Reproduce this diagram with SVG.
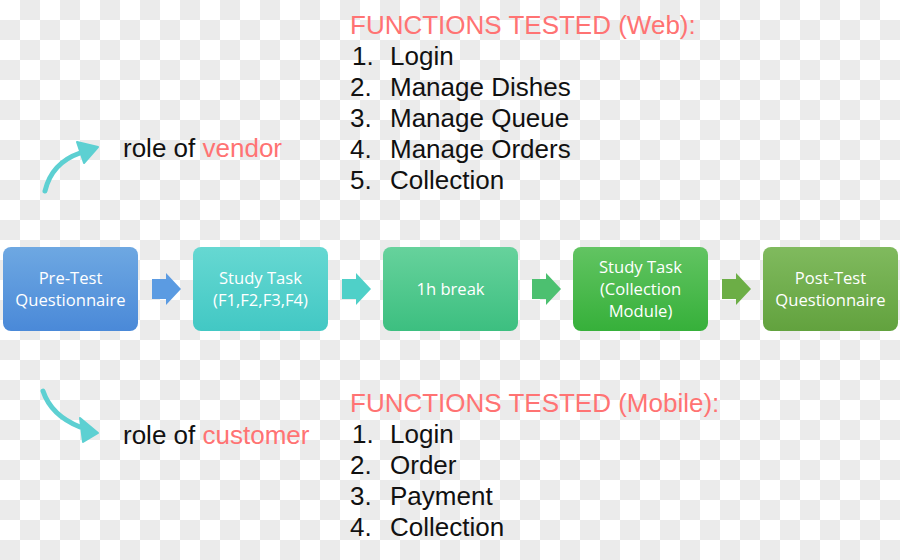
<svg xmlns="http://www.w3.org/2000/svg" width="900" height="560" viewBox="0 0 900 560">
<style>
.bt{font-family:"Open Sans","Noto Sans",sans-serif;font-size:16.6px;fill:#ffffff;text-anchor:middle}
.tx{font-family:"Liberation Sans",Arial,sans-serif;font-size:26px;fill:#111111}
.red{fill:#ff7373}
.curve{fill:none;stroke:#5dd0d2;stroke-width:5;stroke-linecap:round}
.head{fill:#5dd0d2;stroke:#5dd0d2;stroke-width:2;stroke-linejoin:round}
</style>
<defs>
<pattern id="chk" x="0" y="0" width="40" height="40" patternUnits="userSpaceOnUse">
<rect width="40" height="40" fill="#ffffff"/>
<rect x="20" y="0" width="20" height="20" fill="#ebebeb"/>
<rect x="0" y="20" width="20" height="20" fill="#ebebeb"/>
</pattern>
<linearGradient id="g1" x1="0" y1="0" x2="0" y2="1"><stop offset="0" stop-color="#6ea8e2"/><stop offset="1" stop-color="#4a89d8"/></linearGradient>
<linearGradient id="g2" x1="0" y1="0" x2="0" y2="1"><stop offset="0" stop-color="#66d8d2"/><stop offset="1" stop-color="#42c8c4"/></linearGradient>
<linearGradient id="g3" x1="0" y1="0" x2="0" y2="1"><stop offset="0" stop-color="#66d29c"/><stop offset="1" stop-color="#3cbf80"/></linearGradient>
<linearGradient id="g4" x1="0" y1="0" x2="0" y2="1"><stop offset="0" stop-color="#62c462"/><stop offset="1" stop-color="#36b03a"/></linearGradient>
<linearGradient id="g5" x1="0" y1="0" x2="0" y2="1"><stop offset="0" stop-color="#80ba5e"/><stop offset="1" stop-color="#62a23e"/></linearGradient>
</defs>
<rect width="900" height="560" fill="url(#chk)"/>

<g id="connectors">
<path d="M152 279 H166 V273 L181 289 L166 305 V299 H152 Z" fill="#5b9be2"/>
<path d="M342 279 H356 V273 L371 289 L356 305 V299 H342 Z" fill="#4fd0c8"/>
<path d="M532 279 H546 V273 L561 289 L546 305 V299 H532 Z" fill="#4cc070"/>
<path d="M722 279 H736 V273 L751 289 L736 305 V299 H722 Z" fill="#6cae46"/>
<path class="curve" d="M45 191 C49 174 60 160 80 153"/>
<path class="head" d="M98 147 L77 142 L84 163 Z"/>
<path class="curve" d="M43 391 C48 406 60 419 80 427"/>
<path class="head" d="M98 433 L80 418 L83 442 Z"/>
</g>

<g id="node-pretest">
<rect x="3" y="247" width="135" height="84" rx="8" fill="url(#g1)"/>
<text class="bt" x="70.5" y="284">Pre-Test</text>
<text class="bt" x="70.5" y="306">Questionnaire</text>
</g>
<g id="node-study1">
<rect x="193" y="247" width="135" height="84" rx="8" fill="url(#g2)"/>
<text class="bt" x="260.5" y="284">Study Task</text>
<text class="bt" x="260.5" y="306">(F1,F2,F3,F4)</text>
</g>
<g id="node-break">
<rect x="383" y="247" width="135" height="84" rx="8" fill="url(#g3)"/>
<text class="bt" x="450.5" y="295">1h break</text>
</g>
<g id="node-study2">
<rect x="573" y="247" width="135" height="84" rx="8" fill="url(#g4)"/>
<text class="bt" x="640.5" y="273">Study Task</text>
<text class="bt" x="640.5" y="295">(Collection</text>
<text class="bt" x="640.5" y="317">Module)</text>
</g>
<g id="node-posttest">
<rect x="763" y="247" width="135" height="84" rx="8" fill="url(#g5)"/>
<text class="bt" x="830.5" y="284">Post-Test</text>
<text class="bt" x="830.5" y="306">Questionnaire</text>
</g>

<g id="vendor-label">
<text class="tx" x="123" y="157">role of <tspan class="red">vendor</tspan></text>
</g>
<g id="customer-label">
<text class="tx" x="123" y="444">role of <tspan class="red">customer</tspan></text>
</g>

<g id="web-functions">
<text class="tx red" x="350" y="34">FUNCTIONS TESTED (Web):</text>
<text class="tx" x="352" y="65">1.</text><text class="tx" x="390" y="65">Login</text>
<text class="tx" x="350" y="96">2.</text><text class="tx" x="390" y="96">Manage Dishes</text>
<text class="tx" x="350" y="127">3.</text><text class="tx" x="390" y="127">Manage Queue</text>
<text class="tx" x="350" y="158">4.</text><text class="tx" x="390" y="158">Manage Orders</text>
<text class="tx" x="350" y="189">5.</text><text class="tx" x="390" y="189">Collection</text>
</g>
<g id="mobile-functions">
<text class="tx red" x="350" y="412">FUNCTIONS TESTED (Mobile):</text>
<text class="tx" x="352" y="443">1.</text><text class="tx" x="390" y="443">Login</text>
<text class="tx" x="350" y="474">2.</text><text class="tx" x="390" y="474">Order</text>
<text class="tx" x="350" y="505">3.</text><text class="tx" x="390" y="505">Payment</text>
<text class="tx" x="350" y="536">4.</text><text class="tx" x="390" y="536">Collection</text>
</g>
</svg>
